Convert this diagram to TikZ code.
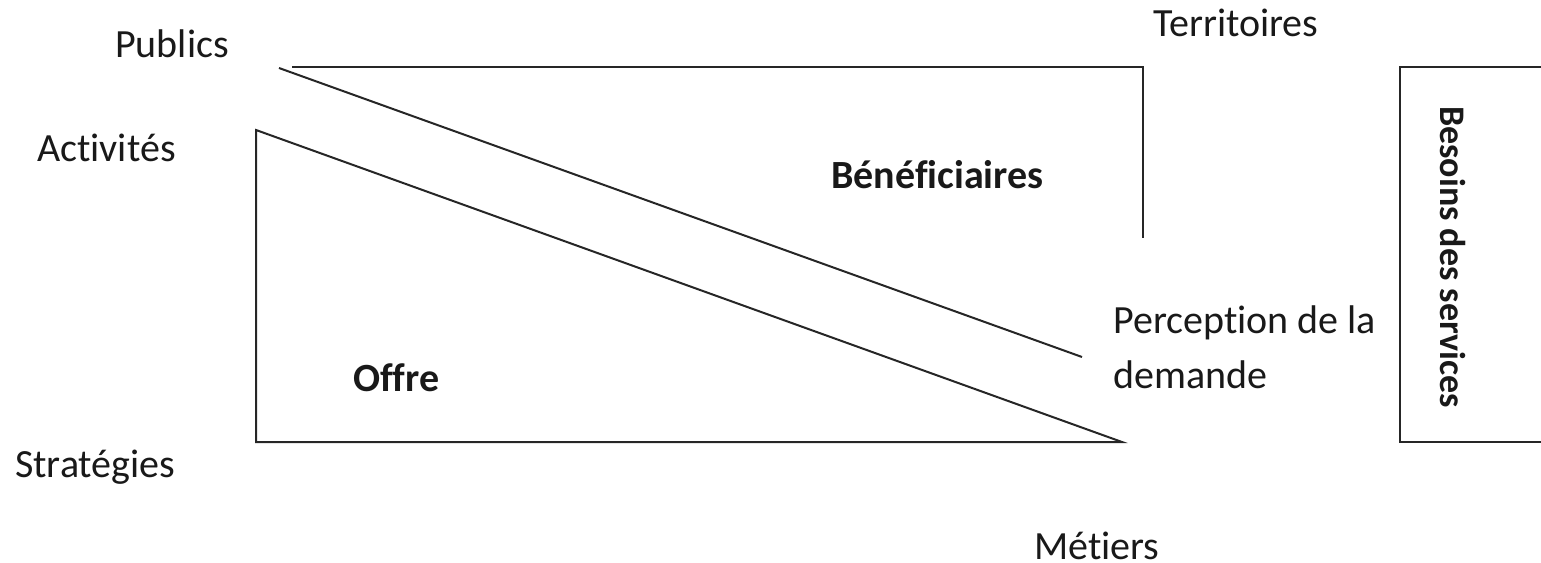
\documentclass[tikz,border=0pt]{standalone}
\usepackage{fontspec}
\setmainfont{Carlito}[Ligatures={NoCommon}]
\begin{document}
\begin{tikzpicture}[x=1pt,y=-1pt,
  lbl/.style={anchor=base west,inner sep=0pt,text=black!90,font=\fontsize{40}{48}\selectfont},
  blbl/.style={lbl,font=\fontsize{40}{48}\selectfont\bfseries},
  edge/.style={line width=2pt,black!85}]
\useasboundingbox (0,0) rectangle (1541,562);
% upper shape
\coordinate (ua) at (279,68);
\coordinate (ub) at (1082,357);
\coordinate (uc) at (292,67);
\coordinate (ud) at (1143,67);
\coordinate (ue) at (1143,238);
\draw[edge] (ua) -- (ub);
\draw[edge] (uc) -- (ud) -- (ue);
% lower triangle
\coordinate (la) at (256,130);
\coordinate (lb) at (256,442);
\coordinate (lc) at (1122,442);
\draw[edge] (la) -- (lb) -- (lc) -- cycle;
% right box
\coordinate (ra) at (1541,67);
\coordinate (rb) at (1400,67);
\coordinate (rc) at (1400,442);
\coordinate (rd) at (1541,442);
\draw[edge] (ra) -- (rb) -- (rc) -- (rd);
% labels
\node[lbl] (publics) at (115,57) {Publics};
\node[lbl] (activites) at (37,161) {Activités};
\node[lbl] (strategies) at (15,477) {Stratégies};
\node[lbl] (territoires) at (1153,36) {Territoires};
\node[lbl] (metiers) at (1034,559) {Métiers};
\node[blbl] (benef) at (831,188) {Bénéficiaires};
\node[blbl] (offre) at (353,391) {Offre};
\node[lbl] (perc1) at (1113,333) {Perception de la};
\node[lbl] (perc2) at (1113,388) {demande};
\node[lbl,font=\fontsize{36}{44}\selectfont\bfseries,rotate=-90,anchor=base] (besoins) at (1440,257) {Besoins des services};
\end{tikzpicture}
\end{document}
